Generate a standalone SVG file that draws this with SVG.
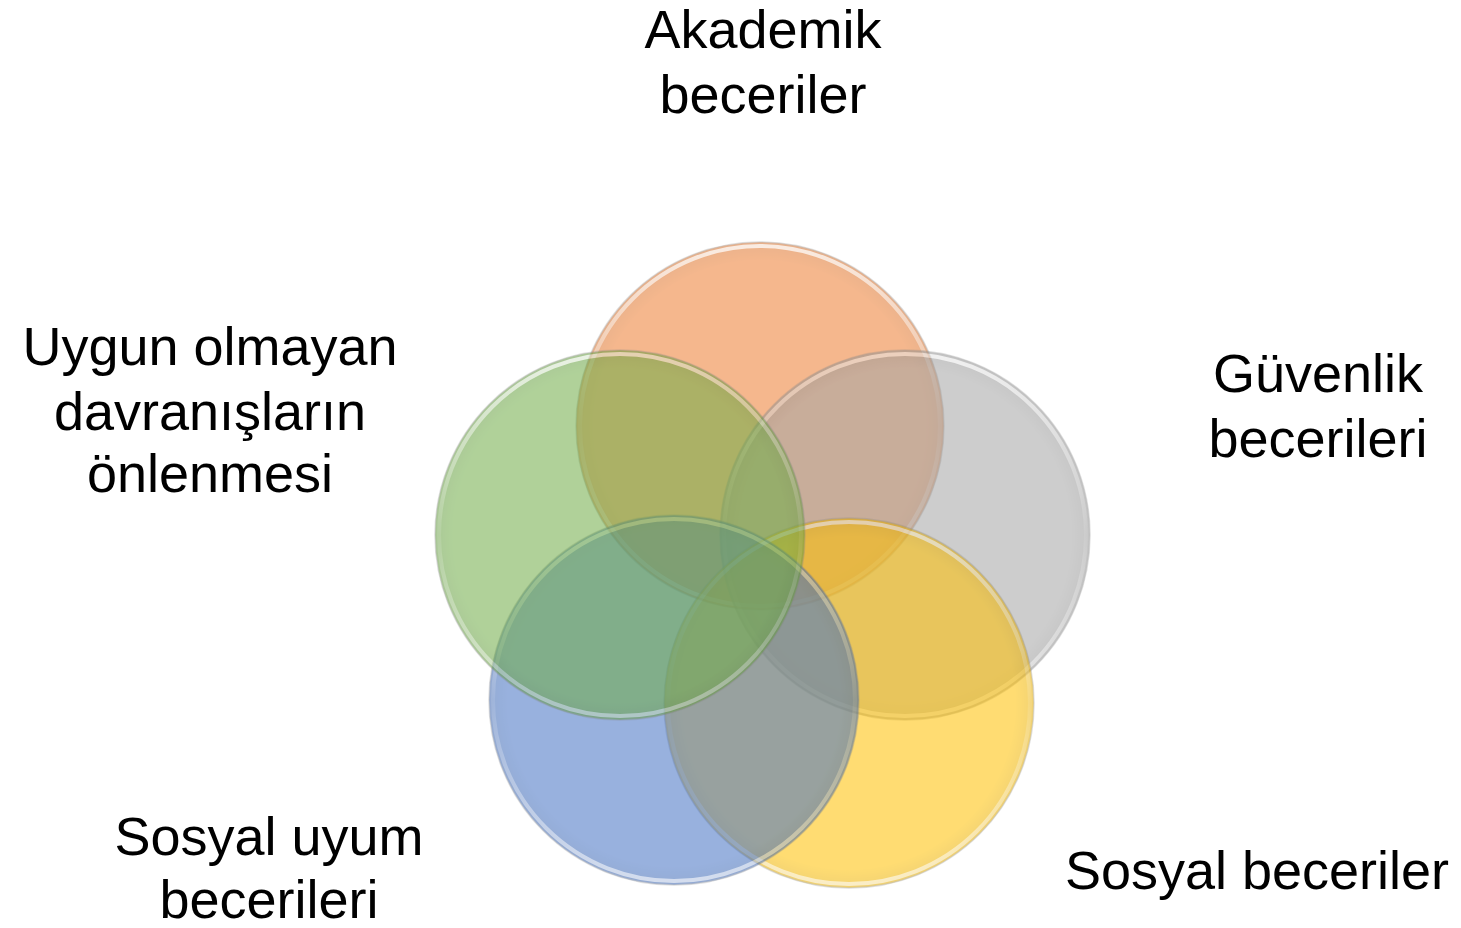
<svg xmlns="http://www.w3.org/2000/svg" width="1461" height="928" viewBox="0 0 1461 928">
  <defs>
    <radialGradient id="rimShade" cx="0.5" cy="0.5" r="0.5">
      <stop offset="0.9" stop-color="#000" stop-opacity="0"/>
      <stop offset="0.97" stop-color="#000" stop-opacity="0.06"/>
      <stop offset="1" stop-color="#000" stop-opacity="0.12"/>
    </radialGradient>
    <linearGradient id="rimHi" x1="0" y1="0" x2="0" y2="1">
      <stop offset="0" stop-color="#fff" stop-opacity="0.75"/>
      <stop offset="0.5" stop-color="#fff" stop-opacity="0.1"/>
      <stop offset="1" stop-color="#fff" stop-opacity="0.6"/>
    </linearGradient>
  </defs>
  <style>
    .disc { opacity: 0.55; }
    .rimIn { fill: none; stroke: url(#rimHi); stroke-width: 4; }
    .rimOut { fill: none; stroke: #8a8a8a; stroke-opacity: 0.5; stroke-width: 1.5; }
    .shade { fill: url(#rimShade); }
    .label { font-family: "Liberation Sans", Arial, sans-serif; font-size: 54px; fill: #000; text-anchor: middle; }
  </style>
  <g id="connectors"/>

  <g id="node-akademik">
    <g class="disc">
      <circle cx="760" cy="426" r="184" fill="#ED7D31"/>
      <circle cx="760" cy="426" r="184" class="shade"/>
      <circle cx="760" cy="426" r="180" class="rimIn"/>
      <circle cx="760" cy="426" r="184" class="rimOut"/>
    </g>
    <text class="label" x="763" y="48">Akademik</text>
    <text class="label" x="763" y="113">beceriler</text>
  </g>

  <g id="node-guvenlik">
    <g class="disc">
      <circle cx="905" cy="535" r="185" fill="#A5A5A5"/>
      <circle cx="905" cy="535" r="185" class="shade"/>
      <circle cx="905" cy="535" r="181" class="rimIn"/>
      <circle cx="905" cy="535" r="185" class="rimOut"/>
    </g>
    <text class="label" x="1318" y="392">Güvenlik</text>
    <text class="label" x="1318" y="457">becerileri</text>
  </g>

  <g id="node-sosyal-beceriler">
    <g class="disc">
      <circle cx="849" cy="703" r="185" fill="#FFC000"/>
      <circle cx="849" cy="703" r="185" class="shade"/>
      <circle cx="849" cy="703" r="181" class="rimIn"/>
      <circle cx="849" cy="703" r="185" class="rimOut"/>
    </g>
    <text class="label" x="1257" y="889">Sosyal beceriler</text>
  </g>

  <g id="node-sosyal-uyum">
    <g class="disc">
      <circle cx="674" cy="700" r="185" fill="#4472C4"/>
      <circle cx="674" cy="700" r="185" class="shade"/>
      <circle cx="674" cy="700" r="181" class="rimIn"/>
      <circle cx="674" cy="700" r="185" class="rimOut"/>
    </g>
    <text class="label" x="269" y="855">Sosyal uyum</text>
    <text class="label" x="269" y="918">becerileri</text>
  </g>

  <g id="node-uygun-olmayan">
    <g class="disc">
      <circle cx="620" cy="535" r="185" fill="#70AD47"/>
      <circle cx="620" cy="535" r="185" class="shade"/>
      <circle cx="620" cy="535" r="181" class="rimIn"/>
      <circle cx="620" cy="535" r="185" class="rimOut"/>
    </g>
    <text class="label" x="210" y="365">Uygun olmayan</text>
    <text class="label" x="210" y="430">davranışların</text>
    <text class="label" x="210" y="492">önlenmesi</text>
  </g>
</svg>
